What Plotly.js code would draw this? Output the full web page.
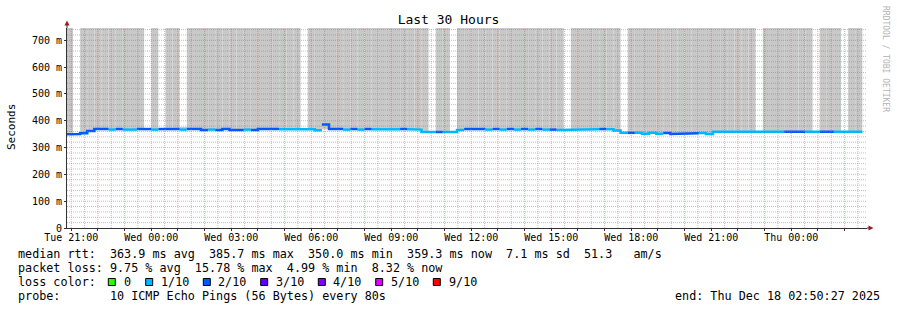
<!DOCTYPE html>
<html><head><meta charset="utf-8">
<script src="https://cdn.plot.ly/plotly-3.0.1.min.js"></script>
<style>html,body{margin:0;padding:0;background:#fff}#chart{width:897px;height:310px}</style>
</head><body><div id="chart"></div>
<script>
// ---------- data ----------
const rangeStart = '2025-12-16 20:50:27';
const rangeEnd = '2025-12-18 02:50:27';
const firstBucketStart = '2025-12-16T20:48:00Z';
const bucketMinutes = 16;

// median RTT per 16-minute bucket (ms)
const medianRtt = [
  350.0, 350.4, 353, 362, 369, 369, 367, 369, 367, 367,
  369, 369, 367, 369, 369, 369, 367, 369, 369, 366,
  367, 366, 369, 366, 366, 367, 366, 369, 369, 369,
  368, 368, 368, 368, 368, 365, 385.7, 369, 369, 367,
  369, 367, 369, 368, 368, 368, 368, 369, 368, 367,
  358, 358, 358, 358, 358, 366, 369, 369, 369, 367,
  369, 367, 369, 367, 369, 367, 369, 367, 367, 366,
  366, 368, 368, 368, 368, 369, 368, 364, 355, 355,
  355, 352, 355, 352, 354, 350.5, 350.5, 350.5, 353, 354,
  351, 359, 359, 359, 359, 359, 359, 359, 359, 359,
  359, 359, 359, 359, 359, 359, 359, 359, 359, 359,
  359, 359.3
];
// packet loss per bucket (tenths, as coloured)
const lossLevel = [
  2,2,2,2,2,2,1,2,1,1,
  2,2,1,2,2,2,1,2,2,2,
  1,2,2,2,2,1,2,2,2,2,
  1,1,1,1,1,1,2,2,2,1,
  2,1,2,1,1,1,1,2,1,1,
  1,1,2,1,1,1,2,2,2,1,
  2,1,2,1,2,1,2,1,2,1,
  1,1,1,1,1,2,1,1,1,2,
  1,1,1,1,2,2,2,2,2,1,
  1,1,1,1,1,1,1,1,1,1,
  1,2,2,2,1,1,2,2,1,1,
  1,1
];
// smoke (ping spread) lower / upper bound per bucket (ms)
const smokeMin = [
  350.0, 350.4, 353, 362, 369, 369, 367, 369, 367, 367,
  369, 369, 367, 369, 369, 369, 367, 369, 369, 366,
  367, 366, 369, 366, 366, 367, 366, 369, 369, 369,
  368, 368, 368, 368, 368, 365, 368, 369, 369, 367,
  369, 367, 369, 368, 368, 368, 368, 369, 368, 367,
  358, 358, 358, 358, 358, 366, 369, 369, 369, 367,
  369, 367, 369, 367, 369, 367, 369, 367, 367, 366,
  366, 368, 368, 368, 368, 369, 368, 364, 355, 355,
  355, 352, 355, 352, 354, 350.5, 350.5, 350.5, 353, 354,
  351, 359, 359, 359, 359, 359, 359, 359, 359, 359,
  359, 359, 359, 359, 359, 359, 359, 359, 359, 359,
  359, 359.3
];
const smokeMax = [
  760, 350.4, 760, 760, 760, 760, 760, 760, 760, 760,
  760, 369, 760, 369, 760, 760, 377, 760, 760, 760,
  760, 760, 760, 760, 760, 760, 760, 760, 760, 760,
  760, 760, 760, 368, 760, 760, 760, 760, 760, 760,
  760, 760, 760, 760, 760, 760, 760, 760, 760, 760,
  760, 358, 760, 760, 358, 760, 760, 760, 760, 760,
  760, 760, 760, 760, 760, 760, 760, 760, 760, 760,
  366, 760, 760, 760, 760, 760, 760, 760, 355, 760,
  760, 760, 760, 760, 760, 760, 760, 760, 760, 760,
  760, 760, 760, 760, 760, 760, 760, 359, 760, 760,
  760, 760, 760, 760, 760, 359, 760, 760, 760, 359,
  760, 760
];

const lossTenths = [0, 1, 2, 3, 4, 5, 9];
const lossLabels = ['0', '1/10', '2/10', '3/10', '4/10', '5/10', '9/10'];
const lossColors = ['#26ff00', '#00b8ff', '#0059ff', '#5e00ff', '#7e00ff', '#dd00ff', '#ff0000'];

const yTickVals = [0, 100, 200, 300, 400, 500, 600, 700];
const yTickText = ['0', '100 m', '200 m', '300 m', '400 m', '500 m', '600 m', '700 m'];
const yMax = 746;

const titleText = 'Last 30 Hours';
const yTitle = 'Seconds';
const legendLines = [
  'median rtt:  363.9 ms avg  385.7 ms max  350.0 ms min  359.3 ms now  7.1 ms sd  51.3   am/s',
  'packet loss: 9.75 % avg  15.78 % max  4.99 % min  8.32 % now',
  'loss color:',
  'probe:       10 ICMP Echo Pings (56 Bytes) every 80s'
];
const endText = 'end: Thu Dec 18 02:50:27 2025';
const watermark = 'RRDTOOL / TOBI OETIKER';

// ---------- helpers ----------
const MONO = 'DejaVu Sans Mono, monospace';
const L = 67, R = 867, T = 28, B = 228;
const px2x = p => (p - L) / (R - L);
const py2y = p => (B - p) / (B - T);
const fmt = ms => new Date(ms).toISOString().replace('T', ' ').slice(0, 19);
const nb = s => s.replace(/ /g, '\u00a0');
const t0 = Date.parse(firstBucketStart);
const bw = bucketMinutes * 60000;
const bStart = medianRtt.map((_, i) => t0 + i * bw);

// smoke bars
const traces = [{
  type: 'bar',
  x: bStart.map(s => fmt(s + bw / 2)),
  y: smokeMax.map((v, i) => v - smokeMin[i]),
  base: smokeMin,
  width: medianRtt.map(() => bw),
  marker: {color: '#c8c8c8', line: {width: 0}},
  hoverinfo: 'skip', showlegend: false
}];

// median line, one trace per loss colour
lossTenths.forEach((lv, k) => {
  const xs = [], ys = [];
  let prev = -2;
  medianRtt.forEach((v, i) => {
    if (lossLevel[i] !== lv) return;
    if (prev !== i - 1 && xs.length) { xs.push(null); ys.push(null); }
    xs.push(fmt(bStart[i]), fmt(bStart[i] + bw));
    ys.push(v, v);
    prev = i;
  });
  if (xs.length) traces.push({
    type: 'scatter', mode: 'lines', x: xs, y: ys,
    line: {color: lossColors[k], width: 2.5}, connectgaps: false,
    hoverinfo: 'skip', showlegend: false
  });
});

// ---------- grid (drawn above smoke, like rrdtool) ----------
const shapes = [];
const gStart = Date.parse('2025-12-16T21:00:00Z');
const gEnd = Date.parse('2025-12-18T02:50:27Z');
const hourTicks = [], hourText = [];
const dayNames = ['Sun', 'Mon', 'Tue', 'Wed', 'Thu', 'Fri', 'Sat'];
for (let t = gStart, n = 0; t <= gEnd; t += 1800000, n++) {
  const major = n % 2 === 0;
  shapes.push({type: 'line', xref: 'x', yref: 'paper', x0: fmt(t), x1: fmt(t), y0: 0, y1: 1,
    layer: 'above', line: {color: major ? 'rgba(235,60,60,0.45)' : 'rgba(128,128,128,0.5)', width: 1, dash: '1px,1px'}});
  if (major) {
    hourTicks.push(fmt(t));
    const d = new Date(t);
    const lab = (n / 2) % 3 === 0 ? dayNames[d.getUTCDay()] + ' ' + String(d.getUTCHours()).padStart(2, '0') + ':00' : '';
    hourText.push(nb(lab));
  }
}
for (let v = 20; v < yMax; v += 20) {
  const major = v % 100 === 0;
  shapes.push({type: 'line', xref: 'paper', yref: 'y', x0: 0, x1: 1, y0: v, y1: v,
    layer: 'above', line: {color: major ? 'rgba(235,60,60,0.45)' : 'rgba(128,128,128,0.5)', width: 1, dash: '1px,1px'}});
}
// axis extensions and arrows
shapes.push({type: 'line', xref: 'paper', yref: 'paper', x0: 0, x1: 0, y0: 1, y1: py2y(25), layer: 'above', line: {color: '#333', width: 1}});
shapes.push({type: 'path', xref: 'paper', yref: 'paper', layer: 'above',
  path: `M ${px2x(64.5)},${py2y(25.5)} L ${px2x(69.5)},${py2y(25.5)} L ${px2x(67)},${py2y(20.5)} Z`,
  fillcolor: '#9a1c1c', line: {width: 0}});
shapes.push({type: 'line', xref: 'paper', yref: 'paper', x0: 1, x1: px2x(869), y0: 0, y1: 0, layer: 'above', line: {color: '#333', width: 1}});
shapes.push({type: 'path', xref: 'paper', yref: 'paper', layer: 'above',
  path: `M ${px2x(868.5)},${py2y(225.5)} L ${px2x(868.5)},${py2y(230.5)} L ${px2x(873.5)},${py2y(228)} Z`,
  fillcolor: '#9a1c1c', line: {width: 0}});

// ---------- annotations / legend ----------
const annotations = [];
const lineY = [254, 268, 282, 296];
legendLines.forEach((s, i) => annotations.push({
  xref: 'paper', yref: 'paper', x: px2x(15.5), y: py2y(lineY[i]), xanchor: 'left', yanchor: 'middle',
  text: nb(s), showarrow: false, font: {family: MONO, size: 11.75, color: '#000'}
}));
annotations.push({xref: 'paper', yref: 'paper', x: px2x(881.5), y: py2y(296), xanchor: 'right', yanchor: 'middle',
  text: nb(endText), showarrow: false, font: {family: MONO, size: 11.75, color: '#000'}});
const boxX = [108.3, 145.7, 203.3, 260.7, 318.3, 375.7, 433.3];
const labX = [123.3, 160, 217.3, 275.3, 332.7, 390.7, 448];
lossLabels.forEach((lab, i) => {
  shapes.push({type: 'rect', xref: 'paper', yref: 'paper', layer: 'above',
    x0: px2x(boxX[i]), x1: px2x(boxX[i] + 7), y0: py2y(285.5), y1: py2y(278.5),
    fillcolor: lossColors[i], line: {color: '#000', width: 1}});
  annotations.push({xref: 'paper', yref: 'paper', x: px2x(labX[i] - 1.5), y: py2y(282), xanchor: 'left', yanchor: 'middle',
    text: lab, showarrow: false, font: {family: MONO, size: 11.75, color: '#000'}});
});
annotations.push({xref: 'paper', yref: 'paper', x: px2x(11), y: py2y(127), xanchor: 'center', yanchor: 'middle',
  text: yTitle, textangle: -90, showarrow: false, font: {family: MONO, size: 11, color: '#000'}});
annotations.push({xref: 'paper', yref: 'paper', x: px2x(886), y: py2y(59), xanchor: 'center', yanchor: 'middle',
  text: nb(watermark), textangle: 90, showarrow: false, font: {family: MONO, size: 8, color: '#b4b4b4'}});

const layout = {
  width: 897, height: 310,
  margin: {l: L, r: 897 - R, t: T, b: 310 - B, pad: 0},
  paper_bgcolor: '#fff', plot_bgcolor: '#fff',
  title: {text: titleText, x: 0.5, xref: 'container', xanchor: 'center', y: 1 - 19 / 310, yref: 'container', yanchor: 'middle',
    font: {family: MONO, size: 13, color: '#000'}},
  showlegend: false,
  barmode: 'overlay',
  xaxis: {type: 'date', range: [rangeStart, rangeEnd], showgrid: false, zeroline: false,
    showline: true, linecolor: '#333', linewidth: 1,
    tickmode: 'array', tickvals: hourTicks, ticktext: hourText,
    ticks: 'outside', ticklen: 2, tickcolor: '#333', ticklabelstandoff: -2,
    tickfont: {family: MONO, size: 10, color: '#000'}, fixedrange: true},
  yaxis: {range: [0, yMax], showgrid: false, zeroline: false,
    showline: true, linecolor: '#333', linewidth: 1,
    tickmode: 'array', tickvals: yTickVals, ticktext: yTickText.map(nb),
    ticks: 'outside', ticklen: 2, tickcolor: '#333',
    tickfont: {family: MONO, size: 10, color: '#000'}, fixedrange: true},
  shapes: shapes,
  annotations: annotations,
  hovermode: false
};
Plotly.newPlot('chart', traces, layout, {staticPlot: true, displayModeBar: false});
</script></body></html>
